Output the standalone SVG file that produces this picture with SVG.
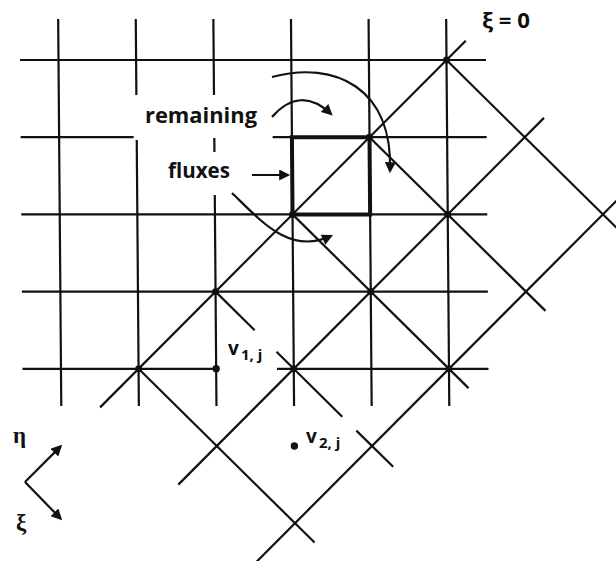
<svg xmlns="http://www.w3.org/2000/svg" width="616" height="561" viewBox="0 0 616 561">
<style>
.ln{stroke:#111;stroke-width:2.2;fill:none;stroke-linecap:butt}
.thick{stroke:#111;stroke-width:4;fill:none;stroke-linecap:square}
.dot{fill:#111}
.lbl{font-family:"Open Sans","Noto Sans","Liberation Sans",sans-serif;font-weight:700;fill:#111}
.greek{font-family:"Liberation Serif","DejaVu Serif",serif;font-weight:700;fill:#111}
.arr{stroke:#111;stroke-width:2.2;fill:none;marker-end:url(#ah)}
</style>
<defs>
<marker id="ah" viewBox="0 0 10 10" refX="8" refY="5" markerWidth="12" markerHeight="11" markerUnits="userSpaceOnUse" orient="auto"><path d="M0,0 L10,5 L0,10 z" fill="#111"/></marker>
</defs>
<rect width="616" height="561" fill="#fff"/>
<g id="lattice" transform="matrix(1,0,0.008,1,-0.48,0)">
 <g id="grid" class="ln">
  <line x1="58.5" y1="19" x2="58.5" y2="406"/>
  <line x1="136.1" y1="19" x2="136.1" y2="95"/>
  <line x1="136.1" y1="140" x2="136.1" y2="406"/>
  <line x1="213.7" y1="19" x2="213.7" y2="95"/>
  <line x1="213.7" y1="138" x2="213.7" y2="152"/>
  <line x1="213.7" y1="195" x2="213.7" y2="406"/>
  <line x1="291.3" y1="19" x2="291.3" y2="406"/>
  <line x1="368.9" y1="19" x2="368.9" y2="406"/>
  <line x1="446.5" y1="19" x2="446.5" y2="406"/>
  <line x1="20" y1="60" x2="486" y2="60"/>
  <line x1="20" y1="137.2" x2="133" y2="137.2"/>
  <line x1="272" y1="137.2" x2="486" y2="137.2"/>
  <line x1="20" y1="214.4" x2="486" y2="214.4"/>
  <line x1="20" y1="291.6" x2="486" y2="291.6"/>
  <line x1="20" y1="368.8" x2="213.7" y2="368.8"/>
  <line x1="274.5" y1="368.8" x2="486" y2="368.8"/>
 </g>
 <g id="diagonals" class="ln">
  <line x1="465.9" y1="40.7" x2="97.3" y2="407.4"/>
  <line x1="543.5" y1="117.9" x2="174.9" y2="484.6"/>
  <line x1="640.5" y1="175.8" x2="252.5" y2="561.8"/>
  <line x1="446.5" y1="60" x2="640.5" y2="253"/>
  <line x1="368.9" y1="137.2" x2="543.5" y2="310.9"/>
  <line x1="291.3" y1="214.4" x2="465.9" y2="388.1"/>
  <line x1="213.7" y1="291.6" x2="252.5" y2="330.2"/>
  <line x1="274.2" y1="351.8" x2="339.4" y2="416.7"/>
  <line x1="353.4" y1="430.6" x2="389.9" y2="466.8"/>
  <line x1="136.1" y1="368.8" x2="310.7" y2="542.5"/>
 </g>
 <rect id="cell" class="thick" x="291.3" y="137.2" width="77.6" height="77.2"/>
 <g id="nodes" class="dot">
  <circle cx="446.5" cy="60" r="3.4"/>
  <circle cx="368.9" cy="137.2" r="3.4"/>
  <circle cx="291.3" cy="214.4" r="3.4"/>
  <circle cx="446.5" cy="214.4" r="3.4"/>
  <circle cx="213.7" cy="291.6" r="3.4"/>
  <circle cx="368.9" cy="291.6" r="3.4"/>
  <circle cx="136.1" cy="368.8" r="3.4"/>
  <circle cx="291.3" cy="368.8" r="3.4"/>
  <circle cx="446.5" cy="368.8" r="3.4"/>
 </g>
 <g id="v1j-point"><circle class="dot" cx="213.7" cy="368.8" r="3.7"/></g>
 <g id="v2j-point"><circle class="dot" cx="291.3" cy="446" r="3.7"/></g>
</g>
<g id="connectors">
 <path class="arr" d="M272,117 Q300,85 331,114"/>
 <path class="arr" d="M272,77 C335,60 393,88 390,171"/>
 <path class="arr" d="M232,193 C262,222 290,255 331,236"/>
 <path class="arr" d="M252,175 L288,175"/>
 <path class="arr" d="M25,482 L60.6,446.4"/>
 <path class="arr" d="M25,482 L60.6,518.6"/>
</g>
<g id="labels">
 <text class="lbl" x="482" y="28" font-size="21" textLength="48" lengthAdjust="spacingAndGlyphs">ξ = 0</text>
 <text class="lbl" x="145" y="123" font-size="22" textLength="112" lengthAdjust="spacingAndGlyphs">remaining</text>
 <text class="lbl" x="168" y="178" font-size="22" textLength="62" lengthAdjust="spacingAndGlyphs">fluxes</text>
 <text class="lbl" x="228" y="355" font-size="19">v<tspan x="241" dy="5" font-size="15">1, j</tspan></text>
 <text class="lbl" x="306" y="443" font-size="19">v<tspan x="319" dy="5" font-size="15">2, j</tspan></text>
 <text class="greek" x="13" y="443" font-size="23">η</text>
 <text class="greek" x="16" y="530" font-size="23">ξ</text>
</g>
</svg>
